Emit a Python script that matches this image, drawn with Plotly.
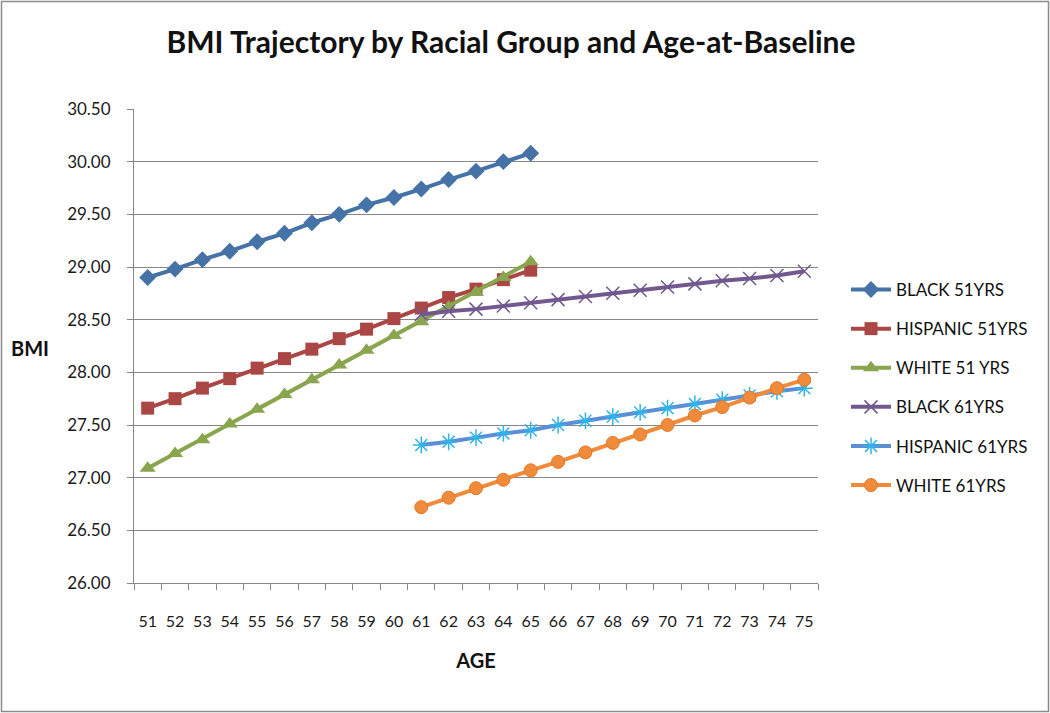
import plotly.graph_objects as go

ages = [str(a) for a in range(51, 76)]
ages_51 = [str(a) for a in range(51, 66)]
ages_61 = [str(a) for a in range(61, 76)]

black_51 = [28.90, 28.98, 29.07, 29.15, 29.24, 29.32, 29.42, 29.50, 29.59, 29.66, 29.74, 29.83, 29.91, 30.00, 30.08]
hispanic_51 = [27.66, 27.75, 27.85, 27.94, 28.04, 28.13, 28.22, 28.32, 28.41, 28.51, 28.61, 28.71, 28.79, 28.88, 28.97]
white_51 = [27.09, 27.23, 27.36, 27.51, 27.65, 27.79, 27.93, 28.07, 28.21, 28.35, 28.48, 28.62, 28.76, 28.90, 29.05]
black_61 = [28.55, 28.58, 28.60, 28.63, 28.66, 28.69, 28.72, 28.75, 28.78, 28.81, 28.84, 28.87, 28.89, 28.92, 28.96]
hispanic_61 = [27.31, 27.34, 27.38, 27.42, 27.45, 27.50, 27.54, 27.58, 27.62, 27.66, 27.70, 27.74, 27.78, 27.82, 27.85]
white_61 = [26.72, 26.81, 26.90, 26.98, 27.07, 27.15, 27.24, 27.33, 27.41, 27.50, 27.59, 27.67, 27.76, 27.85, 27.93]

FONT = "Lato"
W, H = 1050, 713
ML, MR, MT, MB = 134, 232, 109, 130

fig = go.Figure()

series = [
    ("BLACK 51YRS", ages_51, black_51, "#4572A7", dict(symbol="diamond", size=13, color="#4572A7")),
    ("HISPANIC 51YRS", ages_51, hispanic_51, "#AA4643", dict(symbol="square", size=13, color="#AA4643")),
    ("WHITE 51 YRS", ages_51, white_51, "#89A54E", dict(symbol="triangle-up", size=14, color="#89A54E")),
    ("BLACK 61YRS", ages_61, black_61, "#71588F", dict(symbol="x-thin-open", size=13, color="#71588F", line=dict(width=1.5, color="#71588F"))),
    ("HISPANIC 61YRS", ages_61, hispanic_61, "#5B8ED6", dict(symbol="asterisk-open", size=14, color="#2FB4EA", line=dict(width=1.5, color="#2FB4EA"))),
    ("WHITE 61YRS", ages_61, white_61, "#F08B3B", dict(symbol="circle", size=13, color="#F08B3B", line=dict(width=1, color="#E07A2A"))),
]

for i, (name, xs, ys, lc, mk) in enumerate(series):
    fig.add_trace(go.Scatter(
        x=xs, y=ys, name=name, mode="lines+markers",
        line=dict(color=lc, width=4),
        marker=mk,
        legendgroup=f"g{i}",
    ))

pw = W - ML - MR
ph = H - MT - MB

fig.update_layout(
    width=W, height=H,
    margin=dict(l=ML, r=MR, t=MT, b=MB),
    paper_bgcolor="white", plot_bgcolor="white",
    font=dict(family=FONT, color="#1a1a1a"),
    title=dict(text="<b>BMI Trajectory by Racial Group and Age-at-Baseline</b>",
               x=511 / W, xanchor="center", y=1 - 42 / H, yanchor="middle",
               font=dict(family=FONT, size=30, color="#111111")),
    showlegend=True,
    legend=dict(x=(846 - ML) / pw, xanchor="left", y=(583 - 272) / ph, yanchor="top",
                font=dict(family=FONT, size=17, color="#111111"),
                tracegroupgap=14, itemwidth=40, bgcolor="rgba(0,0,0,0)"),
    xaxis=dict(type="category", categoryorder="array", categoryarray=ages,
               tickmode="array", tickvals=ages, ticktext=ages,
               tickson="boundaries", ticks="outside", ticklen=6, tickcolor="#878787",
               ticklabelstandoff=24, tickangle=0,
               showline=True, linecolor="#878787", linewidth=1,
               showgrid=False, zeroline=False,
               tickfont=dict(family=FONT, size=16, color="#1a1a1a"),
               title=dict(text="<b>AGE</b>", font=dict(family=FONT, size=20, color="#111111"), standoff=24),
               range=[-0.5, 24.5]),
    yaxis=dict(range=[26, 30.5], dtick=0.5, tick0=26, tickformat=".2f",
               ticks="outside", ticklen=6, tickcolor="#878787",
               ticklabelstandoff=13,
               showline=True, linecolor="#878787", linewidth=1,
               showgrid=True, gridcolor="#878787", gridwidth=1, zeroline=False,
               tickfont=dict(family=FONT, size=17, color="#1a1a1a")),
    annotations=[dict(text="<b>BMI</b>", xref="paper", yref="paper",
                      x=(30 - ML) / pw, y=(583 - 348) / ph, xanchor="center", yanchor="middle",
                      showarrow=False, font=dict(family=FONT, size=20, color="#111111"))],
    shapes=[dict(type="rect", xref="paper", yref="paper",
                 x0=(1.5 - ML) / pw, x1=(1048.5 - ML) / pw,
                 y0=(583 - 711.5) / ph, y1=(583 - 1.5) / ph,
                 line=dict(color="#8c8c8c", width=1.5), fillcolor="rgba(0,0,0,0)", layer="below")],
)

fig.write_html("out.html", config={"displayModeBar": False},
               post_script="document.body.style.margin='0';document.body.style.overflow='hidden';")
